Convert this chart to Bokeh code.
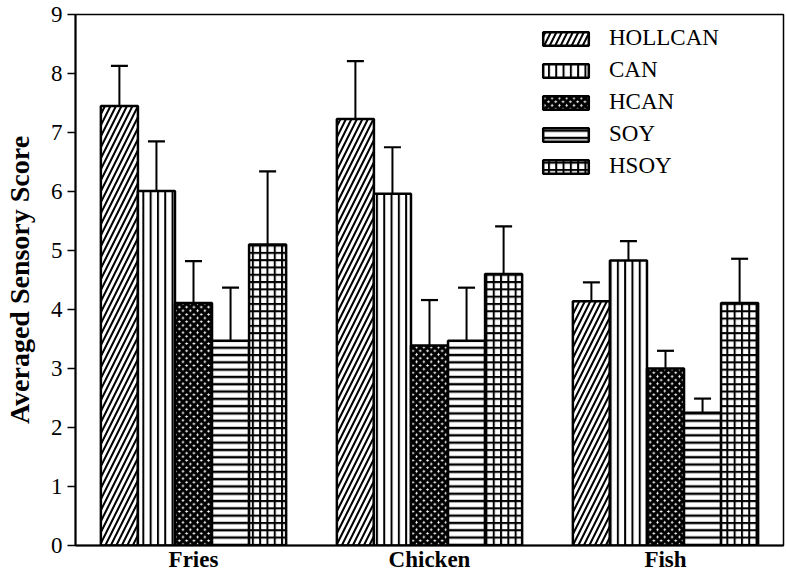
from bokeh.plotting import figure
from bokeh.models import ColumnDataSource, Legend, LegendItem, FactorRange, Range1d, FixedTicker
from bokeh.transform import dodge
from bokeh.embed import file_html
from bokeh.resources import INLINE

foods = ["Fries", "Chicken", "Fish"]
oils = ["HOLLCAN", "CAN", "HCAN", "SOY", "HSOY"]

hollcan_mean = [7.45, 7.23, 4.14]
can_mean = [6.01, 5.96, 4.83]
hcan_mean = [4.11, 3.39, 3.00]
soy_mean = [3.47, 3.47, 2.25]
hsoy_mean = [5.10, 4.60, 4.11]

hollcan_err = [0.68, 0.98, 0.32]
can_err = [0.84, 0.79, 0.33]
hcan_err = [0.71, 0.77, 0.30]
soy_err = [0.90, 0.90, 0.24]
hsoy_err = [1.24, 0.81, 0.75]

y_ticks = [0, 1, 2, 3, 4, 5, 6, 7, 8, 9]

means = [hollcan_mean, can_mean, hcan_mean, soy_mean, hsoy_mean]
errs = [hollcan_err, can_err, hcan_err, soy_err, hsoy_err]

styles = [
    dict(hatch_pattern="/", hatch_scale=11, hatch_weight=2),
    dict(hatch_pattern="|", hatch_scale=7.3, hatch_weight=2),
    dict(hatch_pattern="x", hatch_scale=7.3, hatch_weight=3.3),
    dict(hatch_pattern="-", hatch_scale=7.3, hatch_weight=2.4),
    dict(hatch_pattern="+", hatch_scale=7.3, hatch_weight=2),
]

FONT = "Liberation Serif"

p = figure(
    x_range=FactorRange(factors=foods, range_padding=0),
    y_range=Range1d(0, 9),
    width=786, height=577,
    output_backend="svg", toolbar_location=None,
    min_border_left=75, min_border_right=3, min_border_top=14, min_border_bottom=32,
)

bar_w = 0.157
items = []
for i, oil in enumerate(oils):
    upper = [m + e for m, e in zip(means[i], errs[i])]
    src = ColumnDataSource(dict(food=foods, mean=means[i], upper=upper))
    off = (i - 2) * bar_w
    xd = dodge("food", off, range=p.x_range)
    p.segment(x0=xd, y0="mean", x1=xd, y1="upper", source=src,
              line_color="black", line_width=2)
    p.scatter(x=xd, y="upper", marker="dash", size=17, source=src,
              line_color="black", line_width=2.2)
    r = p.vbar(x=xd, top="mean", width=bar_w, source=src,
               fill_color="white", line_color="black", line_width=2.5,
               hatch_color="black", **styles[i])
    items.append(LegendItem(label=oil, renderers=[r]))

legend = Legend(items=items, location=(462, 366),
                glyph_width=57, glyph_height=17, label_standoff=15,
                spacing=6, padding=0, margin=0,
                label_text_font=FONT, label_text_font_size="23px",
                label_text_color="black", label_height=26,
                border_line_alpha=0, background_fill_alpha=0)
p.add_layout(legend)

p.xgrid.visible = False
p.ygrid.visible = False
p.outline_line_color = "black"
p.outline_line_width = 1.5

p.yaxis.ticker = FixedTicker(ticks=y_ticks)
p.yaxis.major_tick_out = 8
p.yaxis.major_tick_in = 0
p.yaxis.minor_tick_out = 0
p.yaxis.minor_tick_in = 0
p.yaxis.major_tick_line_width = 1.5
p.yaxis.axis_line_width = 2
p.yaxis.major_label_text_font = FONT
p.yaxis.major_label_text_font_size = "23px"
p.yaxis.major_label_text_color = "black"
p.yaxis.major_label_standoff = 5
p.yaxis.axis_label = "Averaged Sensory Score"
p.yaxis.axis_label_text_font = FONT
p.yaxis.axis_label_text_font_size = "28px"
p.yaxis.axis_label_text_font_style = "bold"
p.yaxis.axis_label_text_color = "black"
p.yaxis.axis_label_standoff = 13

p.xaxis.major_tick_out = 0
p.xaxis.major_tick_in = 0
p.xaxis.axis_line_width = 2
p.xaxis.major_label_text_font = FONT
p.xaxis.major_label_text_font_size = "23px"
p.xaxis.major_label_text_font_style = "bold"
p.xaxis.major_label_text_color = "black"
p.xaxis.major_label_standoff = 1

open("out.html", "w").write(file_html(p, INLINE))
